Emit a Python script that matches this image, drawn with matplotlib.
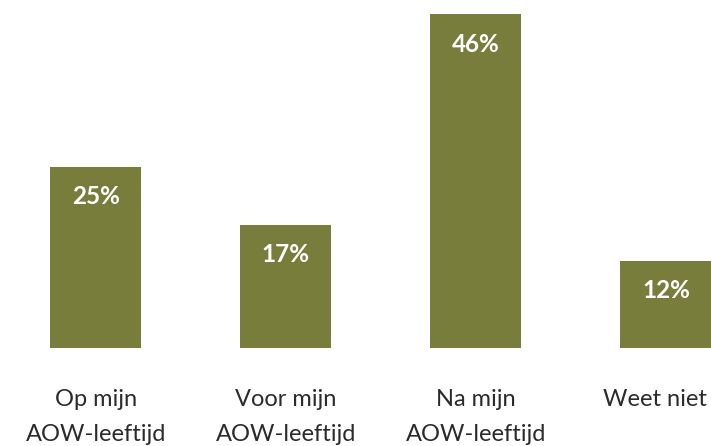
import matplotlib
matplotlib.use("Agg")
import matplotlib.pyplot as plt

categories = ["Op mijn\nAOW-leeftijd", "Voor mijn\nAOW-leeftijd", "Na mijn\nAOW-leeftijd", "Weet niet"]
values = [25, 17, 46, 12]
value_labels = ["25%", "17%", "46%", "12%"]

BAR_COLOR = "#797d3c"
TEXT_COLOR = "#2b2b2b"

plt.rcParams["font.family"] = ["Lato", "DejaVu Sans"]

W, H = 711, 446
fig = plt.figure(figsize=(W / 100, H / 100), dpi=100)
fig.patch.set_facecolor("white")

base_px = 348
ax = fig.add_axes([0, (H - base_px) / H, 1, base_px / H])
ax.set_xlim(-0.503, 3.237)
ax.set_ylim(0, base_px / 7.26)
ax.axis("off")

x = list(range(len(categories)))
bars = ax.bar(x, values, width=0.479, color=BAR_COLOR)

for rect, lab in zip(bars, value_labels):
    ax.annotate(lab, xy=(rect.get_x() + rect.get_width() / 2, rect.get_height()),
                xytext=(0, -30), textcoords="offset pixels",
                ha="center", va="center", color="white",
                fontsize=17.5, fontweight="bold")

cat_texts = []
for xi, cat in zip(x, categories):
    for j, line in enumerate(cat.split("\n")):
        t = ax.annotate(line, xy=(xi, 0), xytext=(0, -58 - 35 * j),
                        textcoords="offset pixels", ha="center", va="baseline",
                        color=TEXT_COLOR, fontsize=17, annotation_clip=False)
        cat_texts.append(t)

# keep labels inside the figure (reference shifts the last label left)
fig.canvas.draw()
renderer = fig.canvas.get_renderer()
for t in cat_texts:
    bb = t.get_window_extent(renderer)
    if bb.x1 > W - 4:
        dx = bb.x1 - (W - 4)
        ox, oy = t.xyann
        t.xyann = (ox - dx, oy)

fig.savefig("out.png", dpi=100, facecolor="white")
